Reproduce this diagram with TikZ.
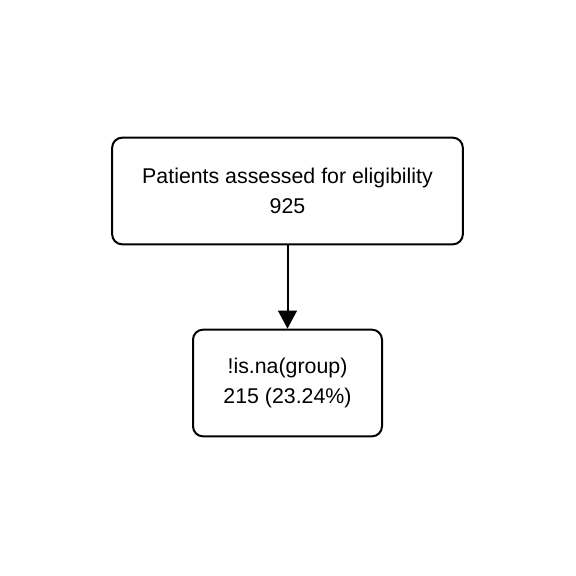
\documentclass[tikz,border=0pt]{standalone}
\usepackage{fontspec}
\setmainfont{Liberation Sans}
\usetikzlibrary{arrows.meta}
\begin{document}
\begin{tikzpicture}[x=0.75pt,y=-0.75pt,
  box/.style={draw=black, line width=1.5pt, rounded corners=7.5pt, align=center,
    inner sep=0pt, font=\fontsize{16}{22.5}\selectfont},
  conn/.style={draw=black, line width=1.5pt, -{Triangle[length=13.5pt,width=14pt]}}]
\fill[white] (0,0) rectangle (576,576);
\useasboundingbox (0,0) rectangle (576,576);
\node[box, minimum width=263pt, minimum height=80pt] (a) at (287.5,191) {\raisebox{-1.5pt}{Patients assessed for eligibility}\\\raisebox{-1.5pt}{925}};
\node[box, minimum width=141.75pt, minimum height=80pt] (b) at (287.5,383) {\raisebox{-1.5pt}{!is.na(group)}\\\raisebox{-1.5pt}{215 (23.24\%)}};
\draw[conn] (a) -- (b);
\end{tikzpicture}
\end{document}
